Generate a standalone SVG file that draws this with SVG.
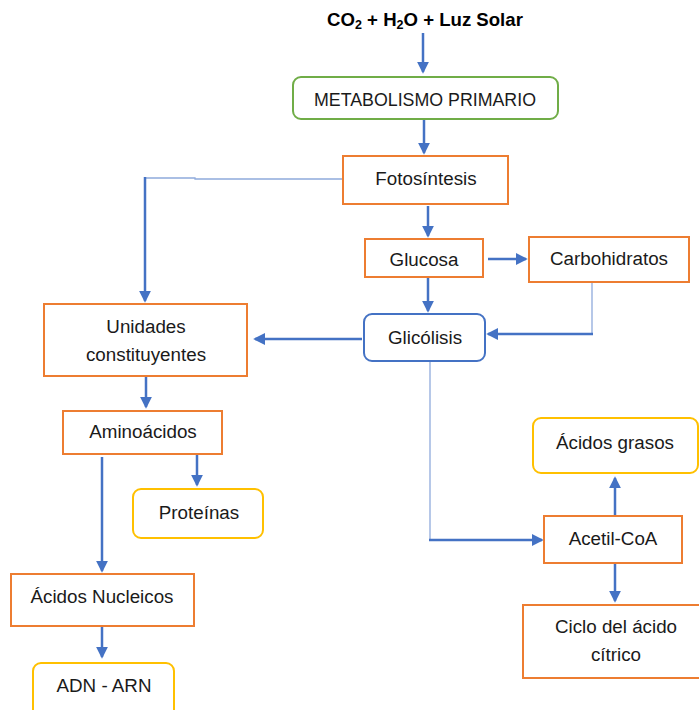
<svg xmlns="http://www.w3.org/2000/svg" width="699" height="710" viewBox="0 0 699 710">
<style>
.box{fill:#fff;stroke-width:2}
.or{stroke:#ED7D31}
.gr{stroke:#70AD47}
.bl{stroke:#4472C4}
.ye{stroke:#FFC000}
.t{font-family:"Liberation Sans",Arial,sans-serif;font-size:18.8px;fill:#1a1a1a;text-anchor:middle}
.title{font-family:"Liberation Sans",Arial,sans-serif;font-size:18.6px;font-weight:bold;fill:#000;text-anchor:middle}
.c{fill:none;stroke:#4472C4;stroke-width:2.5}
.thin{fill:none;stroke:#8FAADC;stroke-width:1.3}
</style>
<defs>
<marker id="ah" viewBox="0 0 10 10" refX="8.5" refY="5" markerWidth="12" markerHeight="12" markerUnits="userSpaceOnUse" orient="auto">
<path d="M0,0 L10,5 L0,10 z" fill="#4472C4"/>
</marker>
</defs>
<g id="title"><text class="title" x="425" y="26">CO<tspan font-size="12.5" dy="3">2</tspan><tspan dy="-3"> + H</tspan><tspan font-size="12.5" dy="3">2</tspan><tspan dy="-3">O + Luz Solar</tspan></text></g>
<g id="connectors">
<line class="c" x1="423" y1="33" x2="423" y2="72" marker-end="url(#ah)"/>
<line class="c" x1="424" y1="120" x2="424" y2="153" marker-end="url(#ah)"/>
<polyline class="thin" points="343,179 195,179 195,178 145,178"/>
<line class="c" x1="145" y1="177" x2="145" y2="301" marker-end="url(#ah)"/>
<line class="c" x1="428" y1="206" x2="428" y2="236" marker-end="url(#ah)"/>
<line class="c" x1="488" y1="259" x2="526" y2="259" marker-end="url(#ah)"/>
<line class="c" x1="428" y1="278" x2="428" y2="311" marker-end="url(#ah)"/>
<line class="thin" x1="592" y1="283" x2="592" y2="334"/>
<line class="c" x1="593" y1="334" x2="488" y2="334" marker-end="url(#ah)"/>
<line class="c" x1="362" y1="339" x2="255" y2="339" marker-end="url(#ah)"/>
<line class="c" x1="146" y1="377" x2="146" y2="407" marker-end="url(#ah)"/>
<line class="c" x1="197" y1="455" x2="197" y2="485" marker-end="url(#ah)"/>
<line class="c" x1="102" y1="457" x2="102" y2="571" marker-end="url(#ah)"/>
<line class="c" x1="102" y1="627" x2="102" y2="657" marker-end="url(#ah)"/>
<line class="thin" x1="430" y1="362" x2="430" y2="540"/>
<line class="c" x1="429" y1="540" x2="542" y2="540" marker-end="url(#ah)"/>
<line class="c" x1="615" y1="516" x2="615" y2="478" marker-end="url(#ah)"/>
<line class="c" x1="615" y1="564" x2="615" y2="601" marker-end="url(#ah)"/>
</g>
<g id="metabolismo"><rect class="box gr" x="293" y="77" width="265" height="42" rx="8"/><text class="t" x="425" y="106" textLength="222" lengthAdjust="spacingAndGlyphs">METABOLISMO PRIMARIO</text></g>
<g id="fotosintesis"><rect class="box or" x="343" y="156" width="165" height="48"/><text class="t" x="426" y="185">Fotosíntesis</text></g>
<g id="glucosa"><rect class="box or" x="365" y="239" width="118" height="38"/><text class="t" x="424" y="266">Glucosa</text></g>
<g id="carbohidratos"><rect class="box or" x="529" y="237" width="160" height="45"/><text class="t" x="609" y="265">Carbohidratos</text></g>
<g id="glicolisis"><rect class="box bl" x="364" y="314" width="121" height="47" rx="8"/><text class="t" x="425" y="344">Glicólisis</text></g>
<g id="unidades"><rect class="box or" x="44" y="304" width="203" height="72"/><text class="t" x="146" y="333">Unidades</text><text class="t" x="146" y="361">constituyentes</text></g>
<g id="aminoacidos"><rect class="box or" x="63" y="411" width="159" height="43"/><text class="t" x="143" y="438">Aminoácidos</text></g>
<g id="proteinas"><rect class="box ye" x="133" y="489" width="130" height="49" rx="8"/><text class="t" x="199" y="519">Proteínas</text></g>
<g id="acidos-nucleicos"><rect class="box or" x="11" y="574" width="183" height="52"/><text class="t" x="102" y="603">Ácidos Nucleicos</text></g>
<g id="adn-arn"><rect class="box ye" x="33" y="663" width="141" height="60" rx="8"/><text class="t" x="104" y="692">ADN - ARN</text></g>
<g id="acidos-grasos"><rect class="box ye" x="533" y="418" width="165" height="55" rx="8"/><text class="t" x="615" y="449">Ácidos grasos</text></g>
<g id="acetil-coa"><rect class="box or" x="544" y="516" width="138" height="47"/><text class="t" x="613" y="545">Acetil-CoA</text></g>
<g id="ciclo"><rect class="box or" x="523" y="605" width="190" height="73"/><text class="t" x="616" y="633">Ciclo del ácido</text><text class="t" x="616" y="661">cítrico</text></g>
</svg>
